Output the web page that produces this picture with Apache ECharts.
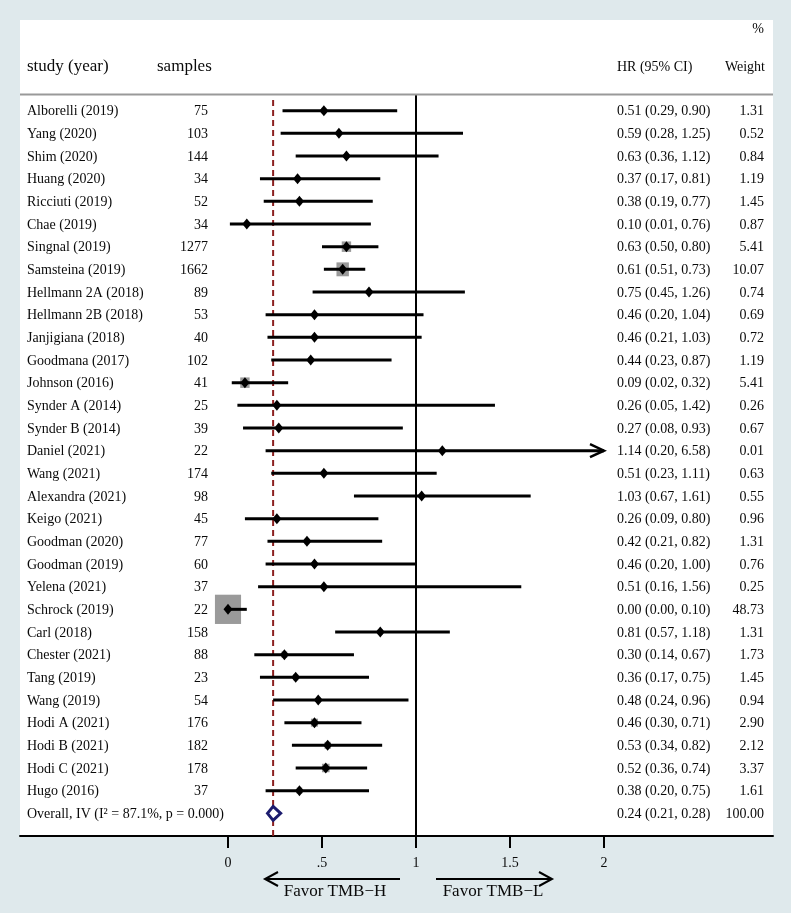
<!DOCTYPE html>
<html><head><meta charset="utf-8">
<script src="https://cdn.jsdelivr.net/npm/echarts@6/dist/echarts.min.js"></script>
<style>html,body{margin:0;padding:0;background:#dfe9ec}#c{width:791px;height:913px}</style>
</head><body><div id="c"></div>
<script>
// ---------- data ----------
const studies = ["Alborelli (2019)", "Yang (2020)", "Shim (2020)", "Huang (2020)", "Ricciuti (2019)", "Chae (2019)", "Singnal (2019)", "Samsteina (2019)", "Hellmann 2A (2018)", "Hellmann 2B (2018)", "Janjigiana (2018)", "Goodmana (2017)", "Johnson (2016)", "Synder A (2014)", "Synder B (2014)", "Daniel (2021)", "Wang (2021)", "Alexandra (2021)", "Keigo (2021)", "Goodman (2020)", "Goodman (2019)", "Yelena (2021)", "Schrock (2019)", "Carl (2018)", "Chester (2021)", "Tang (2019)", "Wang (2019)", "Hodi A (2021)", "Hodi B (2021)", "Hodi C (2021)", "Hugo (2016)"];
const samples = [75, 103, 144, 34, 52, 34, 1277, 1662, 89, 53, 40, 102, 41, 25, 39, 22, 174, 98, 45, 77, 60, 37, 22, 158, 88, 23, 54, 176, 182, 178, 37];
const hr = [0.51, 0.59, 0.63, 0.37, 0.38, 0.10, 0.63, 0.61, 0.75, 0.46, 0.46, 0.44, 0.09, 0.26, 0.27, 1.14, 0.51, 1.03, 0.26, 0.42, 0.46, 0.51, 0.00, 0.81, 0.30, 0.36, 0.48, 0.46, 0.53, 0.52, 0.38];
const ciLow = [0.29, 0.28, 0.36, 0.17, 0.19, 0.01, 0.50, 0.51, 0.45, 0.20, 0.21, 0.23, 0.02, 0.05, 0.08, 0.20, 0.23, 0.67, 0.09, 0.21, 0.20, 0.16, 0.00, 0.57, 0.14, 0.17, 0.24, 0.30, 0.34, 0.36, 0.20];
const ciHigh = [0.90, 1.25, 1.12, 0.81, 0.77, 0.76, 0.80, 0.73, 1.26, 1.04, 1.03, 0.87, 0.32, 1.42, 0.93, 6.58, 1.11, 1.61, 0.80, 0.82, 1.00, 1.56, 0.10, 1.18, 0.67, 0.75, 0.96, 0.71, 0.82, 0.74, 0.75];
const weights = [1.31, 0.52, 0.84, 1.19, 1.45, 0.87, 5.41, 10.07, 0.74, 0.69, 0.72, 1.19, 5.41, 0.26, 0.67, 0.01, 0.63, 0.55, 0.96, 1.31, 0.76, 0.25, 48.73, 1.31, 1.73, 1.45, 0.94, 2.90, 2.12, 3.37, 1.61];
const overallLabel = "Overall, IV (I\u00B2 = 87.1%, p = 0.000)";
const overall = [0.24, 0.21, 0.28, 100.00]; // HR, low, high, weight
const nullEffect = 1;
const xTickValues = [0, 0.5, 1, 1.5, 2];
const xTickLabels = ["0", ".5", "1", "1.5", "2"];
const headers = {study: "study (year)", samples: "samples", hr: "HR (95% CI)", pct: "%", weight: "Weight"};
const favorLabels = ["Favor TMB\u2212H", "Favor TMB\u2212L"];

// ---------- layout ----------
const FONT = '"Liberation Serif", "Times New Roman", serif';
const X_MAX_SHOWN = 2;
const COL_NAME = 27, COL_SAMPLES = 208, COL_HR = 617, COL_W = 764;

const chart = echarts.init(document.getElementById('c'), null, {renderer: 'canvas'});

function txt(text, x, y, align, size) {
  return {type: 'text', style: {text: text, x: x, y: y, align: align, verticalAlign: 'middle',
    textAlign: align, textVerticalAlign: 'middle', font: (size || 14) + 'px ' + FONT, fill: '#0a0a0a'}};
}

const studyData = studies.map((s, i) => [hr[i], i, ciLow[i], ciHigh[i], weights[i]]);

function renderStudy(params, api) {
  const idx = params.dataIndex;
  const est = api.value(0), i = api.value(1), lo = api.value(2), hi = api.value(3), w = api.value(4);
  const y = api.coord([0, i])[1];
  const xEst = api.coord([est, i])[0];
  const xLo = api.coord([lo, i])[0];
  const clipped = hi > X_MAX_SHOWN;
  const xHi = api.coord([Math.min(hi, X_MAX_SHOWN), i])[0];
  const bw = 3.6 * Math.sqrt(w) + 1, bh = bw * 1.12;
  const ch = [];
  ch.push({type: 'rect', shape: {x: xEst - bw / 2, y: y - bh / 2, width: bw, height: bh}, style: {fill: '#9a9a9a'}});
  ch.push({type: 'line', shape: {x1: xLo, y1: y, x2: xHi, y2: y}, style: {stroke: '#000', lineWidth: 3}});
  if (clipped) {
    ch.push({type: 'polyline', shape: {points: [[xHi - 14, y - 6.5], [xHi, y], [xHi - 14, y + 6.5]]}, style: {stroke: '#000', lineWidth: 2.5, fill: null}});
  }
  ch.push({type: 'polygon', shape: {points: [[xEst - 4.5, y], [xEst, y - 5.5], [xEst + 4.5, y], [xEst, y + 5.5]]}, style: {fill: '#000'}});
  ch.push(txt(studies[idx], COL_NAME, y + 1, 'left'));
  ch.push(txt(String(samples[idx]), COL_SAMPLES, y + 1, 'right'));
  ch.push(txt(est.toFixed(2) + ' (' + lo.toFixed(2) + ', ' + hi.toFixed(2) + ')', COL_HR, y + 1, 'left'));
  ch.push(txt(w.toFixed(2), COL_W, y + 1, 'right'));
  return {type: 'group', children: ch};
}

function renderOverall(params, api) {
  const est = api.value(0), i = api.value(1), lo = api.value(2), hi = api.value(3), w = api.value(4);
  const y = api.coord([0, i])[1];
  const xE = api.coord([est, i])[0], xL = api.coord([lo, i])[0], xH = api.coord([hi, i])[0];
  const yTop = api.coord([0, -0.47])[1], yBot = api.coord([0, 32])[1];
  const ch = [];
  ch.push({type: 'line', shape: {x1: xE, y1: yTop, x2: xE, y2: yBot}, style: {stroke: '#8b1f1f', lineWidth: 2, lineDash: [6, 4]}});
  ch.push({type: 'polygon', shape: {points: [[xL, y], [xE, y - 7], [xH, y], [xE, y + 7]]}, style: {fill: '#fff', stroke: '#1c1c6e', lineWidth: 3}});
  ch.push(txt(overallLabel, COL_NAME, y + 1, 'left'));
  ch.push(txt(est.toFixed(2) + ' (' + lo.toFixed(2) + ', ' + hi.toFixed(2) + ')', COL_HR, y + 1, 'left'));
  ch.push(txt(w.toFixed(2), COL_W, y + 1, 'right'));
  return {type: 'group', children: ch};
}

function renderNull(params, api) {
  const v = api.value(0);
  const p1 = api.coord([v, -0.73]), p2 = api.coord([v, 32]);
  return {type: 'line', shape: {x1: p1[0], y1: p1[1], x2: p2[0], y2: p2[1]}, style: {stroke: '#000', lineWidth: 2}};
}

const option = {
  animation: false,
  backgroundColor: '#dfe9ec',
  grid: {left: 20, right: 18, top: 20, bottom: 77, show: true, backgroundColor: '#ffffff', borderWidth: 0},
  xAxis: {
    type: 'value', min: -208 / 188, max: 545 / 188,
    axisLine: {show: true, onZero: false, lineStyle: {color: '#000', width: 2}},
    axisTick: {show: true, inside: false, length: 12, customValues: xTickValues, lineStyle: {color: '#000', width: 2}},
    axisLabel: {show: true, customValues: xTickValues, margin: 20, fontSize: 14, fontFamily: FONT, color: '#0a0a0a',
      formatter: v => { const k = xTickValues.findIndex(t => Math.abs(t - v) < 1e-9); return k >= 0 ? xTickLabels[k] : ''; }},
    splitLine: {show: false}
  },
  yAxis: {type: 'value', inverse: true, min: -4, max: 32, show: false},
  series: [
    {type: 'custom', renderItem: renderNull, data: [[nullEffect, 0]], encode: {x: 0, y: 1}, z: 1, silent: true},
    {type: 'custom', renderItem: renderOverall, data: [[overall[0], studies.length, overall[1], overall[2], overall[3]]], encode: {x: [0, 2, 3], y: 1}, z: 2, silent: true},
    {type: 'custom', renderItem: renderStudy, data: studyData, encode: {x: [0, 2, 3], y: 1}, z: 3, silent: true}
  ],
  graphic: [
    {type: 'line', shape: {x1: 20, y1: 94.5, x2: 773, y2: 94.5}, style: {stroke: '#999', lineWidth: 2}, z: 10},
    Object.assign(txt(headers.study, COL_NAME, 67, 'left', 17), {z: 10}),
    Object.assign(txt(headers.samples, 157, 67, 'left', 17), {z: 10}),
    Object.assign(txt(headers.hr, COL_HR, 67, 'left', 14), {z: 10}),
    Object.assign(txt(headers.pct, COL_W, 29, 'right', 14), {z: 10}),
    Object.assign(txt(headers.weight, COL_W + 1, 67, 'right', 14), {z: 10}),
    {type: 'polyline', shape: {points: [[400, 879], [265, 879]]}, style: {stroke: '#000', lineWidth: 2}, z: 10},
    {type: 'polyline', shape: {points: [[278, 872], [265, 879], [278, 886]]}, style: {stroke: '#000', lineWidth: 2, fill: null}, z: 10},
    {type: 'polyline', shape: {points: [[436, 879], [552, 879]]}, style: {stroke: '#000', lineWidth: 2}, z: 10},
    {type: 'polyline', shape: {points: [[539, 872], [552, 879], [539, 886]]}, style: {stroke: '#000', lineWidth: 2, fill: null}, z: 10},
    Object.assign(txt(favorLabels[0], 335, 892, 'center', 17), {z: 10}),
    Object.assign(txt(favorLabels[1], 493, 892, 'center', 17), {z: 10})
  ]
};
chart.setOption(option);
</script>
</body></html>
